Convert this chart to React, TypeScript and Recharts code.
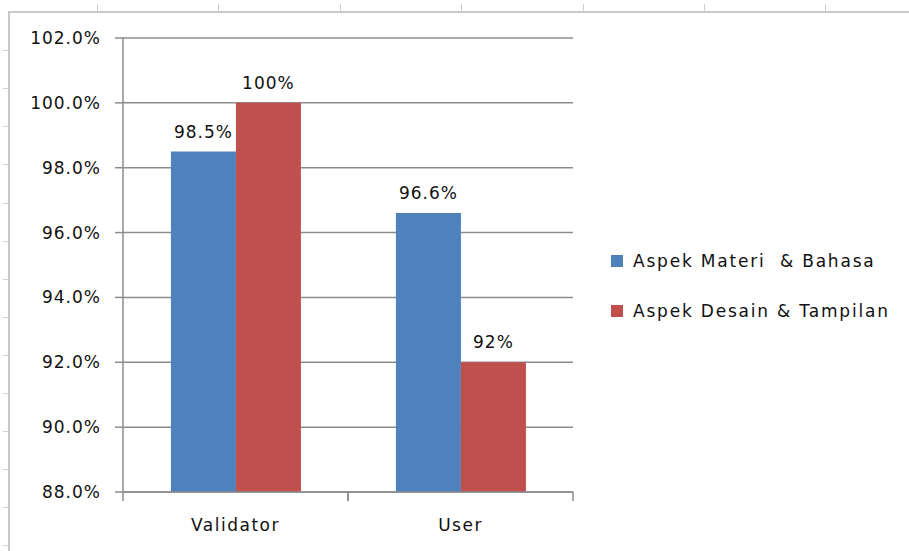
import { BarChart, Bar, XAxis, YAxis, CartesianGrid, LabelList } from 'recharts';

const categories = ['Validator', 'User'];
const materiBahasa = [98.5, 96.6];
const desainTampilan = [100, 92];
const materiLabels = ['98.5%', '96.6%'];
const desainLabels = ['100%', '92%'];
const yTicks = [88, 90, 92, 94, 96, 98, 100, 102];
const seriesNames = ['Aspek Materi  & Bahasa', 'Aspek Desain & Tampilan'];
const sheetTopMarks = [97, 218, 340, 461, 583, 704, 825];
const sheetLeftMarks = [50, 88, 126, 164, 203, 241, 279, 317, 355, 393, 431, 469, 507, 545];

const data = categories.map((name, i) => ({
  name,
  materi: materiBahasa[i],
  desain: desainTampilan[i],
  materiLabel: materiLabels[i],
  desainLabel: desainLabels[i],
}));

const FONT = '"DejaVu Sans", sans-serif';
const BLUE = '#4f81bd';
const RED = '#c0504d';
const AXIS = '#8c8c8c';
const seriesColors = [BLUE, RED];
const labelStyle = { fontFamily: FONT, fontSize: 17, fill: '#111', letterSpacing: 1 };

// category label plus Excel-style tick marks on the category boundaries
function CategoryTick(props: any) {
  const { x, y, payload, width, visibleTicksCount } = props;
  const half = width / (visibleTicksCount || categories.length) / 2;
  return (
    <g>
      <line x1={x - half} x2={x - half} y1={y} y2={y + 9} stroke={AXIS} strokeWidth={1.5} />
      <line x1={x + half} x2={x + half} y1={y} y2={y + 9} stroke={AXIS} strokeWidth={1.5} />
      <text x={x} y={y + 27} dy="0.71em" textAnchor="middle" style={{ fontFamily: FONT, fontSize: 17, fill: '#111', letterSpacing: 1.5 }}>
        {payload.value}
      </text>
    </g>
  );
}

export default function App() {
  return (
    <div style={{ position: 'absolute', left: 0, top: 0, width: 909, height: 551, background: '#fff', overflow: 'hidden' }}>
      {/* spreadsheet frame around the chart */}
      <div style={{ position: 'absolute', left: 8, top: 11, right: 0, bottom: 0, borderTop: '2px solid #c8c8c8', borderLeft: '2px solid #c8c8c8' }} />
      {sheetTopMarks.map((x) => (
        <div key={'t' + x} style={{ position: 'absolute', left: x, top: 4, width: 1, height: 7, background: '#d0d0d0' }} />
      ))}
      {sheetLeftMarks.map((y) => (
        <div key={'l' + y} style={{ position: 'absolute', left: 3, top: y, width: 5, height: 1, background: '#d0d0d0' }} />
      ))}
      <div style={{ position: 'absolute', left: 0, top: 0 }}>
        <BarChart
          width={909}
          height={551}
          data={data}
          margin={{ top: 38, right: 336, left: 0, bottom: 29 }}
          barCategoryGap="21.3%"
          barGap={0}
        >
          <CartesianGrid vertical={false} stroke={AXIS} strokeWidth={1.5} />
          <XAxis
            dataKey="name"
            height={30}
            interval={0}
            axisLine={{ stroke: AXIS, strokeWidth: 1.5 }}
            tickLine={false}
            tickSize={0}
            tickMargin={0}
            tick={<CategoryTick />}
          />
          <YAxis
            width={123}
            domain={[88, 102]}
            ticks={yTicks}
            allowDataOverflow
            axisLine={{ stroke: AXIS, strokeWidth: 1.5 }}
            tickLine={{ stroke: AXIS, strokeWidth: 1.5 }}
            tickSize={8}
            tickMargin={14}
            tickFormatter={(v: number) => `${v.toFixed(1)}%`}
            tick={labelStyle}
          />
          <Bar dataKey="materi" name={seriesNames[0]} fill={BLUE} isAnimationActive={false}>
            <LabelList dataKey="materiLabel" position="top" offset={14} style={labelStyle} />
          </Bar>
          <Bar dataKey="desain" name={seriesNames[1]} fill={RED} isAnimationActive={false}>
            <LabelList dataKey="desainLabel" position="top" offset={14} style={labelStyle} />
          </Bar>
        </BarChart>
      </div>
      <div style={{ position: 'absolute', left: 611, top: 248, fontFamily: FONT, fontSize: 17, letterSpacing: 1.8, color: '#111' }}>
        {seriesNames.map((n, i) => (
          <div key={n} style={{ display: 'flex', alignItems: 'center', height: 26, marginBottom: i === 0 ? 24 : 0 }}>
            <span style={{ width: 12, height: 12, background: seriesColors[i], display: 'inline-block', marginRight: 10 }} />
            <span style={{ whiteSpace: 'pre' }}>{n}</span>
          </div>
        ))}
      </div>
    </div>
  );
}
